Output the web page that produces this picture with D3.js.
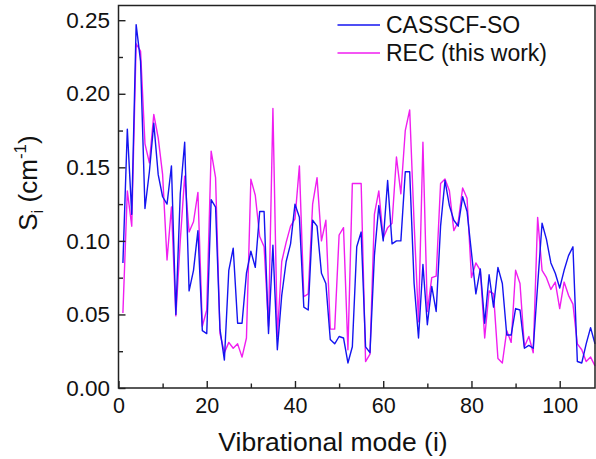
<!DOCTYPE html>
<html>
<head>
<meta charset="utf-8">
<script src="https://cdn.jsdelivr.net/npm/d3@7/dist/d3.min.js"></script>
<style>
html,body{margin:0;padding:0;background:#fff;}
svg{display:block;font-family:"Liberation Sans",Arial,Helvetica,sans-serif;}
</style>
</head>
<body>
<svg id="chart" width="596" height="459"></svg>
<script>
// Vibrational modes 1..108
const modes = d3.range(1, 109);
const casscfSO = [
0.085,0.176,0.118,0.247,0.222,0.122,0.147,0.180,0.145,0.130,
0.125,0.151,0.050,0.132,0.167,0.066,0.080,0.107,0.039,0.037,
0.128,0.123,0.040,0.019,0.080,0.095,0.044,0.044,0.078,0.093,
0.082,0.120,0.120,0.037,0.097,0.026,0.063,0.086,0.098,0.125,
0.116,0.055,0.053,0.114,0.110,0.078,0.071,0.033,0.030,0.035,
0.034,0.017,0.028,0.096,0.106,0.028,0.024,0.090,0.124,0.100,
0.141,0.098,0.100,0.100,0.147,0.147,0.071,0.034,0.084,0.043,
0.069,0.052,0.110,0.141,0.124,0.114,0.110,0.130,0.120,0.092,
0.064,0.081,0.044,0.077,0.055,0.082,0.071,0.036,0.036,0.054,
0.053,0.027,0.029,0.027,0.070,0.112,0.101,0.085,0.078,0.068,
0.080,0.090,0.096,0.018,0.017,0.030,0.041,0.030];
const recThisWork = [
0.051,0.134,0.110,0.234,0.229,0.166,0.153,0.186,0.170,0.145,
0.087,0.123,0.049,0.100,0.144,0.106,0.113,0.133,0.042,0.053,
0.161,0.143,0.037,0.024,0.031,0.027,0.030,0.021,0.034,0.142,
0.131,0.103,0.096,0.042,0.190,0.035,0.086,0.099,0.110,0.115,
0.151,0.062,0.064,0.125,0.143,0.100,0.114,0.040,0.040,0.104,
0.109,0.026,0.139,0.139,0.139,0.018,0.023,0.118,0.134,0.102,
0.109,0.112,0.157,0.132,0.175,0.189,0.112,0.045,0.167,0.052,
0.075,0.076,0.139,0.142,0.134,0.107,0.113,0.136,0.129,0.075,
0.085,0.080,0.034,0.066,0.064,0.020,0.017,0.039,0.031,0.080,
0.071,0.028,0.035,0.024,0.116,0.080,0.075,0.067,0.072,0.054,
0.072,0.063,0.057,0.030,0.026,0.018,0.021,0.015];
const xTicks = [0,20,40,60,80,100];
const xMinor = [10,30,50,70,90];
const yTicks = [0,0.05,0.10,0.15,0.20,0.25];
const yMinor = [0.025,0.075,0.125,0.175,0.225];
const seriesNames = ["CASSCF-SO","REC (this work)"];
const seriesColors = ["#1414f0","#f01ef0"];

const svg = d3.select("#chart");
const L = 118.5, R = 595, T = 5.5, B = 388;
const x = d3.scaleLinear().domain([0,108]).range([L,R]);
const y = d3.scaleLinear().domain([0,0.26]).range([B,T]);

// lines (REC first, CASSCF on top)
const line = d3.line().x((d,i)=>x(modes[i])).y(d=>y(d));
svg.append("path").datum(recThisWork).attr("d",line)
  .attr("fill","none").attr("stroke",seriesColors[1]).attr("stroke-width",1.4).attr("stroke-linejoin","round");
svg.append("path").datum(casscfSO).attr("d",line)
  .attr("fill","none").attr("stroke",seriesColors[0]).attr("stroke-width",1.4).attr("stroke-linejoin","round");

// frame
svg.append("rect").attr("x",L).attr("y",T).attr("width",R-L).attr("height",B-T)
  .attr("fill","none").attr("stroke","#222").attr("stroke-width",1.5);

// axes
svg.append("g").attr("class","xa").attr("transform",`translate(0,${B})`)
  .call(d3.axisBottom(x).tickValues(xTicks).tickSize(-7).tickPadding(10).tickFormat(d3.format("d")));
svg.append("g").attr("transform",`translate(0,${B})`)
  .call(d3.axisBottom(x).tickValues(xMinor).tickSize(-4.5).tickFormat(""));
svg.append("g").attr("class","ya").attr("transform",`translate(${L},0)`)
  .call(d3.axisLeft(y).tickValues(yTicks).tickSize(-7).tickPadding(8.5).tickFormat(d3.format(".2f")));
svg.append("g").attr("transform",`translate(${L},0)`)
  .call(d3.axisLeft(y).tickValues(yMinor).tickSize(-4.5).tickFormat(""));
svg.selectAll(".domain").remove();
svg.selectAll(".tick line").attr("stroke","#222").attr("stroke-width",1.4);
svg.selectAll(".tick text").attr("fill","#111")
  .attr("font-family","'Liberation Sans',Arial,sans-serif");
svg.selectAll(".xa .tick text").attr("font-size",21.5);
svg.selectAll(".ya .tick text").attr("font-size",22.5);

// axis titles
svg.append("text").attr("x",333).attr("y",451).attr("text-anchor","middle")
  .attr("font-size",26.5).attr("fill","#111").text("Vibrational mode (i)");
const yt = svg.append("text").attr("transform","translate(37,183) rotate(-90)")
  .attr("text-anchor","middle").attr("font-size",26).attr("fill","#111");
yt.append("tspan").text("S");
yt.append("tspan").attr("font-size",17).attr("dy",6).text("i");
yt.append("tspan").attr("dy",-6).text(" (cm");
yt.append("tspan").attr("font-size",17).attr("dy",-11).text("-1");
yt.append("tspan").attr("dy",11).text(")");

// legend
const lg = svg.append("g");
seriesNames.forEach((n,i)=>{
  const yy = 25 + i*28;
  lg.append("line").attr("x1",337.5).attr("x2",380).attr("y1",yy).attr("y2",yy)
    .attr("stroke",seriesColors[i]).attr("stroke-width",1.5);
  lg.append("text").attr("x",386).attr("y",yy+8).attr("font-size",23).attr("fill","#111").text(n);
});
</script>
</body>
</html>
